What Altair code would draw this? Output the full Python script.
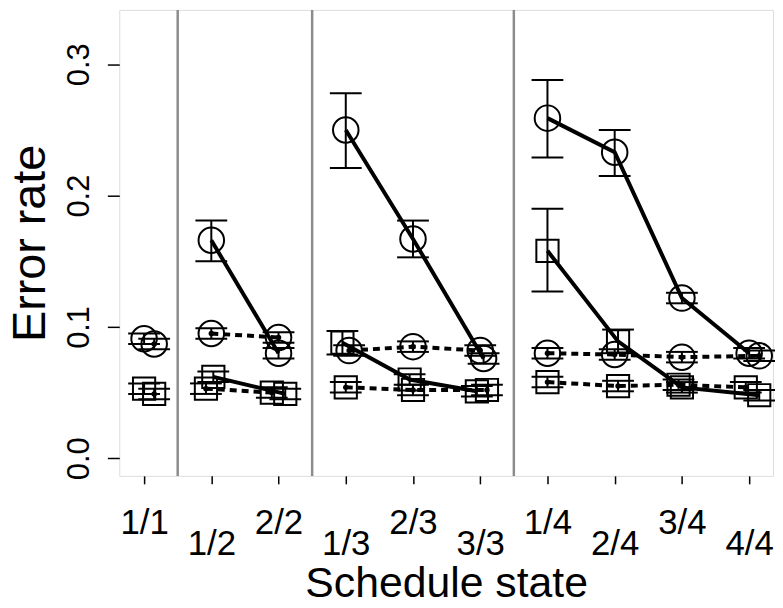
import altair as alt
import pandas as pd

states = ["1/1", "1/2", "2/2", "1/3", "2/3", "3/3", "1/4", "2/4", "3/4", "4/4"]
groups = [1, 2, 2, 3, 3, 3, 4, 4, 4, 4]
separators = [1.5, 3.5, 6.5]

# circle, solid line
cs_x = [1.00, 2.00, 3.00, 4.00, 5.00, 6.05, 7.00, 8.00, 9.00, 10.00]
cs_y = [0.091, 0.166, 0.080, 0.250, 0.167, 0.076, 0.259, 0.233, 0.122, 0.080]
cs_lo = [0.087, 0.150, 0.076, 0.221, 0.153, 0.072, 0.229, 0.215, 0.118, 0.076]
cs_hi = [0.095, 0.181, 0.084, 0.278, 0.181, 0.080, 0.288, 0.250, 0.126, 0.084]

# circle, dashed line
cd_x = [1.15, 2.00, 3.00, 4.05, 5.00, 6.00, 7.00, 8.00, 9.00, 10.15]
cd_y = [0.087, 0.095, 0.092, 0.082, 0.085, 0.082, 0.080, 0.079, 0.077, 0.078]
cd_lo = [0.083, 0.091, 0.088, 0.078, 0.081, 0.078, 0.076, 0.075, 0.073, 0.074]
cd_hi = [0.091, 0.099, 0.096, 0.086, 0.089, 0.086, 0.084, 0.083, 0.081, 0.082]

# square, solid line
ss_x = [1.00, 2.03, 3.10, 3.95, 4.95, 5.95, 7.00, 8.05, 9.00, 10.15]
ss_y = [0.053, 0.062, 0.049, 0.088, 0.060, 0.051, 0.158, 0.089, 0.054, 0.048]
ss_lo = [0.049, 0.058, 0.045, 0.079, 0.056, 0.047, 0.127, 0.080, 0.050, 0.044]
ss_hi = [0.057, 0.066, 0.053, 0.097, 0.064, 0.055, 0.190, 0.098, 0.058, 0.052]

# square, dashed line
sd_x = [1.15, 1.92, 2.90, 4.00, 5.00, 6.10, 7.00, 8.05, 8.95, 9.95]
sd_y = [0.049, 0.053, 0.050, 0.054, 0.052, 0.052, 0.058, 0.055, 0.056, 0.054]
sd_lo = [0.045, 0.049, 0.046, 0.050, 0.048, 0.048, 0.054, 0.051, 0.052, 0.050]
sd_hi = [0.053, 0.057, 0.054, 0.058, 0.056, 0.056, 0.062, 0.059, 0.060, 0.058]

series = [
    ("cs", "circle", "solid", cs_x, cs_y, cs_lo, cs_hi),
    ("cd", "circle", "dashed", cd_x, cd_y, cd_lo, cd_hi),
    ("ss", "square", "solid", ss_x, ss_y, ss_lo, ss_hi),
    ("sd", "square", "dashed", sd_x, sd_y, sd_lo, sd_hi),
]
rows = []
for name, shape, dash, xs, ys, los, his in series:
    for i in range(len(xs)):
        rows.append(dict(series=name, shape=shape, dash=dash, x=xs[i], y=ys[i],
                         lo=los[i], hi=his[i], key=f"{name}-{groups[i]}"))
df = pd.DataFrame(rows)
sep_df = pd.DataFrame({"sep": separators})

FONT = "Liberation Sans"
lab_arr = "[" + ",".join(f"'{s}'" for s in states) + "]"
label_expr = (f"datum.value % 2 == 0 ? ['', {lab_arr}[datum.value-1]] : "
              f"{lab_arr}[datum.value-1]")

xscale = alt.Scale(domain=[0.631, 10.355], nice=False, zero=False)
yscale = alt.Scale(domain=[-0.0134, 0.3414], nice=False, zero=False)

xaxis = alt.Axis(values=list(range(1, 11)), labelExpr=label_expr, title="Schedule state",
                 grid=False, domain=False, tickSize=8, tickWidth=1.5, tickColor="black",
                 labelFont=FONT, labelFontSize=35, labelColor="black",
                 labelBaseline="alphabetic", labelLineHeight=21, labelPadding=50,
                 labelOverlap=False, labelFlush=False, labelBound=False,
                 titleFont=FONT, titleFontSize=43, titleFontWeight="normal",
                 titleColor="black", titleX=329, titleY=121, titleAlign="center",
                 titleBaseline="alphabetic")
yaxis = alt.Axis(values=[0, 0.1, 0.2, 0.3], format=".1f", title="Error rate",
                 grid=False, domain=False, tickSize=12, tickWidth=1.5, tickColor="black",
                 labelFont=FONT, labelFontSize=31, labelColor="black", labelAngle=270,
                 labelAlign="center", labelBaseline="alphabetic", labelPadding=19,
                 labelOverlap=False, labelFlush=False, labelBound=False,
                 titleFont=FONT, titleFontSize=47, titleFontWeight="normal",
                 titleColor="black", titleAngle=270, titleX=-75, titleY=234.5,
                 titleAlign="center", titleBaseline="alphabetic")

X = alt.X("x:Q", scale=xscale, axis=xaxis)
Y = alt.Y("y:Q", scale=yscale, axis=yaxis)

base = alt.Chart(df)

seps = alt.Chart(sep_df).mark_rule(color="#8c8c8c", strokeWidth=2.5).encode(
    x=alt.X("sep:Q", scale=xscale, axis=xaxis))

solid = base.transform_filter("datum.dash == 'solid'").mark_line(
    color="black", strokeWidth=4).encode(x=X, y=Y, detail="key:N")
dashed = base.transform_filter("datum.dash == 'dashed'").mark_line(
    color="black", strokeWidth=4, strokeDash=[7, 5]).encode(x=X, y=Y, detail="key:N")

err = base.mark_rule(color="black", strokeWidth=2).encode(
    x=X, y=alt.Y("lo:Q", scale=yscale, axis=yaxis), y2="hi:Q")
cap_lo = base.mark_tick(color="black", orient="horizontal", size=32, thickness=2,
                        opacity=1).encode(x=X, y=alt.Y("lo:Q", scale=yscale, axis=yaxis))
cap_hi = base.mark_tick(color="black", orient="horizontal", size=32, thickness=2,
                        opacity=1).encode(x=X, y=alt.Y("hi:Q", scale=yscale, axis=yaxis))

circles = base.transform_filter("datum.shape == 'circle'").mark_point(
    shape="circle", size=660, filled=False, color="black", strokeWidth=2,
    opacity=1).encode(x=X, y=Y)
squares = base.transform_filter("datum.shape == 'square'").mark_point(
    shape="square", size=500, filled=False, color="black", strokeWidth=2,
    opacity=1).encode(x=X, y=Y)
dots = base.transform_filter("datum.dash == 'dashed'").mark_point(
    shape="circle", size=30, filled=True, color="black", opacity=1).encode(x=X, y=Y)

chart = alt.layer(seps, solid, dashed, err, cap_lo, cap_hi, circles, squares, dots).properties(
    width=658, height=469,
    autosize=alt.AutoSizeParams(type="none"),
    padding={"left": 112, "top": 0, "right": 2, "bottom": 122},
).configure_view(stroke="black", strokeWidth=1.5).configure(background="white")

chart.save("out.html", embed_options={"renderer": "svg", "actions": False})
